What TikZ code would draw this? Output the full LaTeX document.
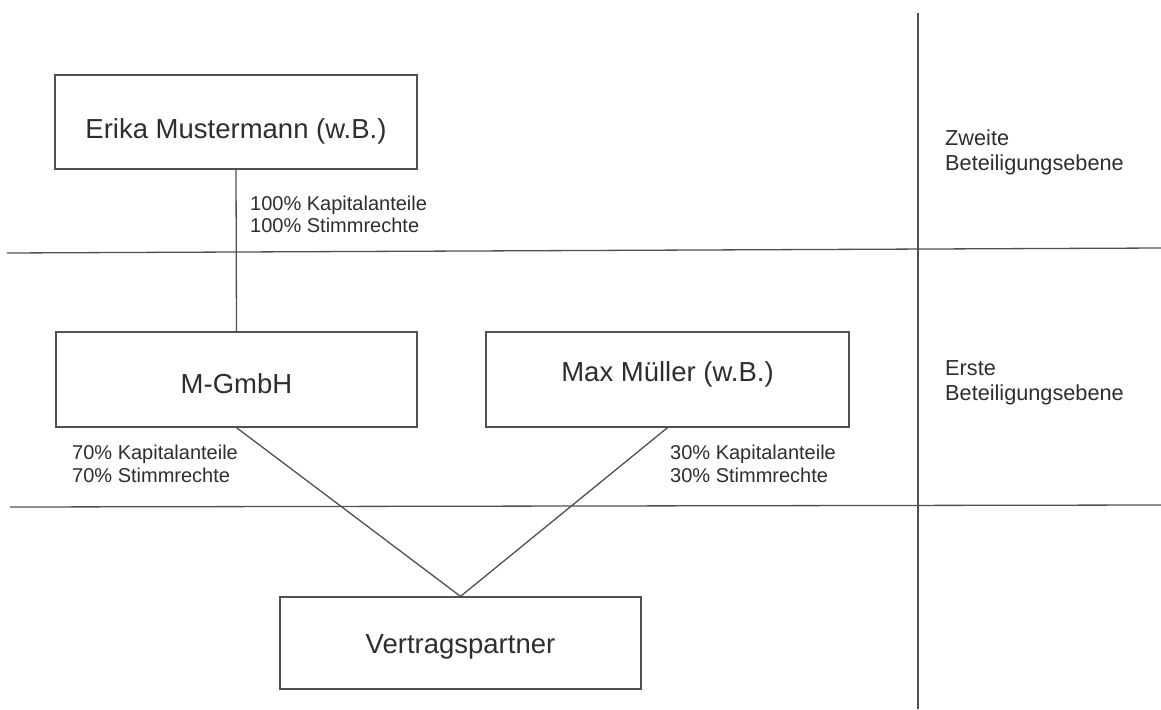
\documentclass[tikz,border=0pt]{standalone}
\usepackage{fontspec}
\setmainfont{Liberation Sans}
\definecolor{txt}{HTML}{2E2E2E}
\definecolor{ln}{HTML}{505050}
\begin{document}
\begin{tikzpicture}[x=1pt,y=-1pt,
  linestyle/.style={draw=ln,line width=1.3pt},
  box/.style={linestyle,fill=white,rectangle,inner sep=0pt,text=txt,
    font=\fontsize{27.5}{33}\selectfont,text height=20pt,text depth=0pt},
  smalllbl/.style={anchor=base west,inner sep=0pt,text=txt,font=\fontsize{20}{24}\selectfont},
  sidelbl/.style={anchor=base west,inner sep=0pt,text=txt,font=\fontsize{21.7}{26}\selectfont}]
\useasboundingbox (0,0) rectangle (1161,709);
\fill[white] (0,0) rectangle (1161,709);
% level lines
\coordinate (h1l) at (7,253);
\coordinate (h1r) at (1161,248);
\coordinate (h2l) at (10,507);
\coordinate (h2r) at (1161,505);
\coordinate (vt) at (918,13);
\coordinate (vb) at (918,709);
\draw[linestyle] (h1l) -- (h1r);
\draw[linestyle] (h2l) -- (h2r);
\draw[linestyle] (vt) -- (vb);
% boxes
\node[box,minimum width=362pt,minimum height=94pt] (erika) at (236,122) {\raisebox{-6.3pt}{Erika Mustermann (w.B.)}};
\node[box,minimum width=361pt,minimum height=95pt] (mgmbh) at (236.5,379.5) {\raisebox{-3.5pt}{M-GmbH}};
\node[box,minimum width=363pt,minimum height=95pt] (max) at (667.5,379.5) {\raisebox{8.5pt}{Max Müller (w.B.)}};
\node[box,minimum width=361pt,minimum height=92pt] (vp) at (460.5,643) {Vertragspartner};
% connectors
\draw[linestyle] (erika.south) -- (mgmbh.north);
\draw[linestyle] (mgmbh.south) -- (vp.north);
\draw[linestyle] (max.south) -- (vp.north);
% share labels
\node[smalllbl] (e1) at (250,210) {100\% Kapitalanteile};
\node[smalllbl] (e2) at (250,232.5) {100\% Stimmrechte};
\node[smalllbl] (m1) at (72,459) {70\% Kapitalanteile};
\node[smalllbl] (m2) at (72,482) {70\% Stimmrechte};
\node[smalllbl] (x1) at (670,459) {30\% Kapitalanteile};
\node[smalllbl] (x2) at (670,482) {30\% Stimmrechte};
% level labels
\node[sidelbl] (z1) at (945,145) {Zweite};
\node[sidelbl] (z2) at (945,170) {Beteiligungsebene};
\node[sidelbl] (r1) at (945,375) {Erste};
\node[sidelbl] (r2) at (945,400) {Beteiligungsebene};
\end{tikzpicture}
\end{document}
